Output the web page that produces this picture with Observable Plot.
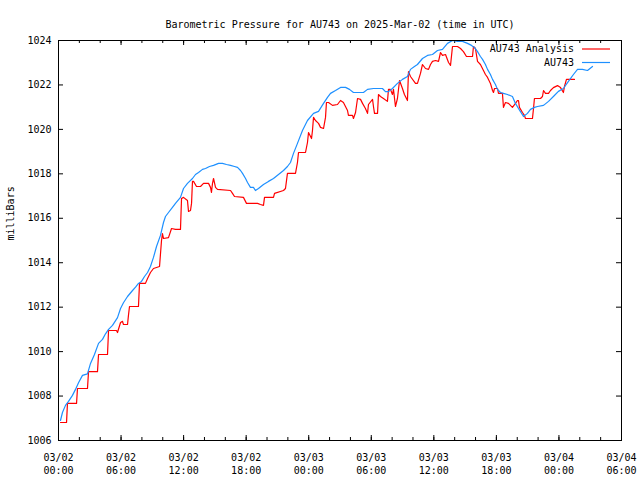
<!DOCTYPE html>
<html><head><meta charset="utf-8">
<script src="https://cdn.jsdelivr.net/npm/d3@7"></script>
<script src="https://cdn.jsdelivr.net/npm/@observablehq/plot@0.6"></script>
<style>body{margin:0;background:#fff}</style>
</head><body><div id="chart"></div>
<script>
const title = "Barometric Pressure for AU743 on 2025-Mar-02 (time in UTC)";
const yLabel = "milliBars";
const seriesNames = ["AU743 Analysis", "AU743"];
const seriesColors = ["#ff0000", "#1e90ff"];
const startUTC = Date.UTC(2025, 2, 2, 0, 0);
const xMajorHours = [0, 6, 12, 18, 24, 30, 36, 42, 48, 54];
const xMinorHours = [0,2,4,6,8,10,12,14,16,18,20,22,24,26,28,30,32,34,36,38,40,42,44,46,48,50,52,54];
const yTicks = [1006, 1008, 1010, 1012, 1014, 1016, 1018, 1020, 1022, 1024];

const analysisHours = [0.19,0.77,0.86,1.73,1.82,2.78,2.88,3.74,3.84,4.70,4.80,5.56,5.66,5.95,6.14,6.23,6.62,6.71,6.81,7.67,7.77,8.34,8.54,8.82,9.11,9.69,9.88,9.97,10.07,10.55,10.84,11.22,11.70,11.80,11.99,12.37,12.47,12.66,12.76,12.85,12.95,13.24,13.62,13.91,14.39,14.58,14.67,14.77,14.87,15.06,15.25,16.50,16.69,16.88,17.74,18.03,19.09,19.37,19.66,19.76,20.62,20.72,21.58,21.77,21.96,22.73,22.92,23.02,23.69,23.88,23.98,24.27,24.36,24.46,24.65,24.94,25.13,25.42,25.61,25.70,25.90,26.28,26.76,27.05,27.33,27.72,27.81,28.20,28.29,28.49,28.68,28.97,29.16,29.44,29.64,29.73,30.12,30.21,30.31,30.60,30.69,30.88,31.17,31.55,31.65,31.84,32.03,32.13,32.32,32.51,32.71,32.99,33.18,33.47,33.57,33.76,34.24,34.43,34.72,34.91,35.20,35.49,35.68,35.87,36.16,36.45,36.64,36.83,37.12,37.41,37.60,37.79,38.27,38.56,38.84,39.13,39.71,39.80,39.99,40.19,40.47,40.76,40.95,41.15,41.43,41.63,41.72,41.82,42.11,42.20,42.58,42.68,42.87,43.16,43.54,43.83,44.02,44.12,44.21,44.50,44.69,44.79,45.46,45.56,45.65,46.23,46.42,46.52,46.71,47.00,47.19,47.47,47.86,48.15,48.43,48.53,48.72,49.49];
const analysisValues = [1006.81,1006.81,1007.67,1007.67,1008.34,1008.34,1009.10,1009.10,1009.87,1009.87,1010.95,1010.95,1010.86,1011.31,1011.36,1011.22,1011.22,1011.63,1012.03,1012.03,1013.07,1013.07,1013.29,1013.56,1013.74,1013.83,1015.00,1015.31,1015.09,1015.13,1015.54,1015.50,1015.50,1016.89,1016.94,1016.80,1016.31,1016.35,1016.67,1017.66,1017.66,1017.43,1017.43,1017.57,1017.57,1017.39,1017.16,1017.57,1017.79,1017.39,1017.30,1017.25,1017.12,1016.98,1016.94,1016.67,1016.67,1016.62,1016.58,1016.94,1016.94,1017.12,1017.25,1017.34,1018.02,1018.02,1018.51,1018.96,1018.96,1019.41,1019.86,1019.59,1019.95,1020.54,1020.40,1020.27,1020.09,1020.04,1020.54,1021.21,1021.21,1021.08,1021.12,1021.30,1021.21,1020.85,1020.63,1020.63,1020.49,1020.76,1021.39,1021.35,1021.17,1020.94,1020.72,1021.12,1021.35,1021.03,1020.72,1020.72,1021.57,1021.48,1021.39,1021.26,1021.80,1021.80,1021.57,1021.80,1021.03,1021.39,1022.20,1021.84,1021.57,1021.30,1022.60,1022.38,1022.07,1022.07,1022.52,1022.92,1022.74,1022.70,1022.92,1023.06,1023.10,1023.06,1023.46,1023.33,1023.37,1023.01,1022.88,1023.73,1023.73,1023.64,1023.50,1023.28,1023.28,1023.73,1023.64,1023.06,1022.92,1022.65,1022.47,1022.34,1022.07,1021.75,1021.66,1021.84,1021.84,1021.62,1021.62,1020.99,1021.21,1021.17,1020.99,1021.17,1021.30,1021.30,1020.99,1020.76,1020.63,1020.49,1020.49,1020.94,1021.39,1021.39,1021.48,1021.75,1021.62,1021.62,1021.75,1021.88,1021.97,1021.88,1021.66,1021.93,1022.25,1022.25];

const au743Hours = [0.19,0.38,0.67,0.96,1.34,1.63,1.92,2.30,2.78,3.07,3.45,3.84,4.22,4.51,4.80,5.18,5.66,5.95,6.23,6.62,7.10,7.39,7.67,7.96,8.25,8.54,8.82,9.11,9.40,9.78,10.07,10.26,10.55,10.93,11.22,11.70,11.99,12.37,12.85,13.14,13.43,13.81,14.10,14.48,14.87,15.35,15.73,16.11,16.50,16.88,17.17,17.46,17.65,17.94,18.13,18.41,18.70,18.89,19.18,19.66,20.14,20.62,21.10,21.58,21.96,22.25,22.54,22.92,23.40,23.88,24.46,24.94,25.42,25.80,26.09,26.57,27.05,27.53,27.91,28.29,28.77,29.25,29.64,30.21,30.69,31.07,31.36,31.65,32.03,32.51,32.99,33.47,33.76,34.14,34.43,34.91,35.39,35.87,36.35,36.83,37.31,37.79,38.27,38.75,39.23,39.61,39.90,40.19,40.47,40.67,40.95,41.15,41.43,41.63,41.91,42.11,42.39,42.68,43.06,43.54,43.83,44.12,44.31,44.60,44.98,45.27,45.65,45.94,46.52,47.00,47.47,47.95,48.43,48.91,49.39,49.78,50.26,50.74,51.22];
const au743Values = [1006.90,1007.26,1007.58,1007.76,1008.03,1008.30,1008.60,1008.93,1009.00,1009.47,1009.87,1010.37,1010.55,1010.80,1011.00,1011.18,1011.53,1011.94,1012.20,1012.48,1012.75,1012.90,1013.07,1013.16,1013.38,1013.56,1013.83,1014.24,1014.73,1015.23,1015.81,1016.08,1016.26,1016.49,1016.67,1016.94,1017.34,1017.57,1017.79,1017.97,1018.06,1018.20,1018.24,1018.33,1018.38,1018.47,1018.47,1018.42,1018.38,1018.33,1018.29,1018.15,1018.02,1017.79,1017.61,1017.39,1017.39,1017.25,1017.34,1017.52,1017.66,1017.79,1017.97,1018.15,1018.33,1018.51,1018.92,1019.37,1019.95,1020.40,1020.72,1020.81,1021.17,1021.44,1021.62,1021.75,1021.89,1021.89,1021.80,1021.66,1021.66,1021.66,1021.80,1021.84,1021.84,1021.84,1021.70,1021.70,1021.84,1022.07,1022.25,1022.38,1022.70,1022.83,1022.92,1023.19,1023.33,1023.37,1023.55,1023.60,1023.87,1024.00,1023.96,1023.96,1023.87,1023.78,1023.69,1023.50,1023.28,1023.15,1022.92,1022.70,1022.47,1022.25,1022.02,1021.80,1021.66,1021.62,1021.57,1021.48,1021.17,1020.94,1020.80,1020.58,1020.72,1020.90,1020.99,1021.03,1021.08,1021.26,1021.48,1021.71,1021.84,1022.16,1022.47,1022.70,1022.70,1022.65,1022.83];

const toDate = h => new Date(startUTC + h * 3600e3);
const analysis = analysisHours.map((h, i) => ({time: toDate(h), value: analysisValues[i]}));
const au743 = au743Hours.map((h, i) => ({time: toDate(h), value: au743Values[i]}));
const xMajor = xMajorHours.map(toDate);
const xMinor = xMinorHours.map(toDate);
const fmtDay = d3.utcFormat("%m/%d"), fmtTime = d3.utcFormat("%H:%M");

const W = 640, H = 480, mL = 58, mR = 19, mT = 40, mB = 40;
const fw = W - mL - mR, fh = H - mT - mB;

const chart = Plot.plot({
  width: W, height: H,
  marginLeft: mL, marginRight: mR, marginTop: mT, marginBottom: mB,
  style: {fontFamily: "'DejaVu Sans Mono', monospace", fontSize: "10px", background: "#fff", color: "#000"},
  x: {type: "utc", domain: [toDate(0), toDate(54)]},
  y: {domain: [1006, 1024]},
  marks: [
    Plot.tickX(xMinor, {x: d => d, insetTop: fh - 3, stroke: "#000"}),
    Plot.tickX(xMinor, {x: d => d, insetBottom: fh - 3, stroke: "#000"}),
    Plot.tickX(xMajor, {x: d => d, insetTop: fh - 5, stroke: "#000"}),
    Plot.tickX(xMajor, {x: d => d, insetBottom: fh - 5, stroke: "#000"}),
    Plot.tickY(yTicks, {y: d => d, insetRight: fw - 5, stroke: "#000"}),
    Plot.tickY(yTicks, {y: d => d, insetLeft: fw - 5, stroke: "#000"}),
    Plot.axisX(xMajor, {tickSize: 0, tickPadding: 11, lineHeight: 1.34, label: null,
      tickFormat: d => fmtDay(d) + "\n" + fmtTime(d)}),
    Plot.axisY(yTicks, {tickSize: 0, tickPadding: 7, label: null, tickFormat: d => String(d)}),
    Plot.text([yLabel], {frameAnchor: "left", rotate: -90, dx: -48}),
    Plot.text([title], {frameAnchor: "top", dy: -20}),
    Plot.line(analysis, {x: "time", y: "value", stroke: seriesColors[0], strokeWidth: 1.2}),
    Plot.line(au743, {x: "time", y: "value", stroke: seriesColors[1], strokeWidth: 1.2}),
    Plot.frame({stroke: "#000"})
  ]
});
document.getElementById("chart").appendChild(chart);

// legend (top-right, inside the frame, no box)
const svg = d3.select(chart);
seriesNames.forEach((name, i) => {
  const cy = mT + 9 + i * 13.5;
  svg.append("text").attr("x", W - mR - 47).attr("y", cy).attr("dy", "0.32em")
    .attr("text-anchor", "end").attr("fill", "#000")
    .style("font-family", "'DejaVu Sans Mono', monospace").style("font-size", "10px").text(name);
  svg.append("line").attr("x1", W - mR - 39).attr("x2", W - mR - 11)
    .attr("y1", cy).attr("y2", cy).attr("stroke", seriesColors[i]).attr("stroke-width", 1.2);
});
</script>
</body></html>
